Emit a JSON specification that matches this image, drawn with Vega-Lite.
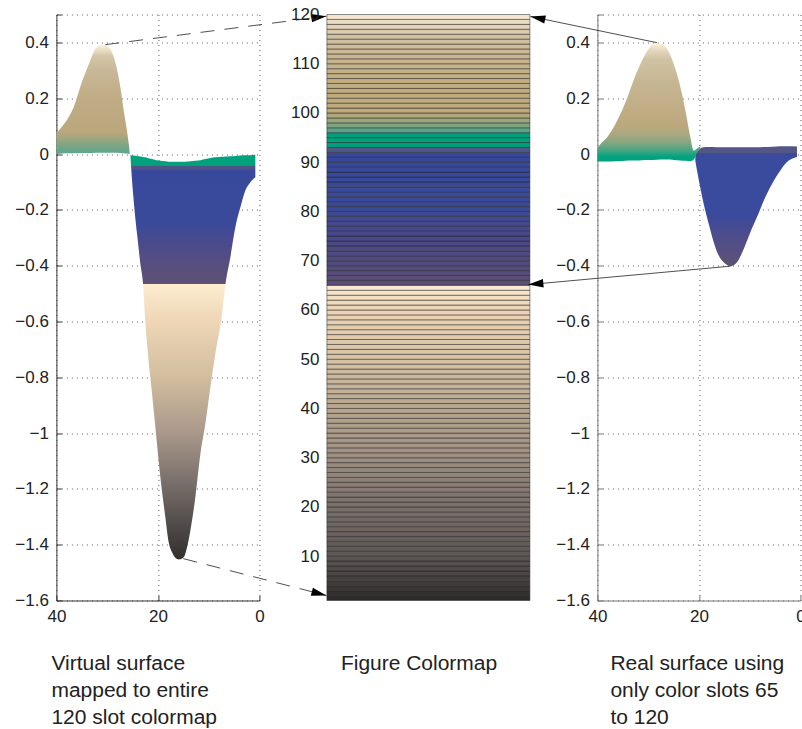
{"$schema":"https://vega.github.io/schema/vega-lite/v6.json","background":"white","padding":{"left":14.4,"top":5.5,"right":0,"bottom":0},"bounds":"flush","spacing":67.5,"config":{"font":"Liberation Sans","view":{"stroke":null},"axis":{"labelFont":"Liberation Sans","labelFontSize":17,"labelColor":"#222","titleFontSize":0,"labelFlush":false,"labelOverlap":false}},
"datasets":{
"surfaceL":[
{"part":"hump","x":40,"low":0.0,"high":0.0747},{"part":"hump","x":38.88,"low":0.002,"high":0.0986},{"part":"hump","x":37.6,"low":0.003,"high":0.132},{"part":"hump","x":36.6,"low":0.003,"high":0.168},{"part":"hump","x":35.0,"low":0.004,"high":0.257},{"part":"hump","x":33.6,"low":0.004,"high":0.323},{"part":"hump","x":32.3,"low":0.005,"high":0.377},{"part":"hump","x":31.3,"low":0.005,"high":0.392},{"part":"hump","x":30.3,"low":0.005,"high":0.392},{"part":"hump","x":29.4,"low":0.005,"high":0.377},{"part":"hump","x":28.4,"low":0.005,"high":0.329},{"part":"hump","x":27.4,"low":0.004,"high":0.24},{"part":"hump","x":26.73,"low":0.003,"high":0.156},{"part":"hump","x":26.2,"low":0.002,"high":0.096},{"part":"hump","x":25.75,"low":0.001,"high":0.037},{"part":"hump","x":25.55,"low":0.0,"high":0.003},
{"part":"trough","x":25.42,"low":-0.004,"high":-0.003},{"part":"trough","x":25.29,"low":-0.0436,"high":-0.004},{"part":"trough","x":24.77,"low":-0.1667,"high":-0.005},{"part":"trough","x":24.11,"low":-0.286,"high":-0.007},{"part":"trough","x":23.45,"low":-0.394,"high":-0.009},{"part":"trough","x":22.93,"low":-0.465,"high":-0.011},{"part":"trough","x":22.47,"low":-0.603,"high":-0.012},{"part":"trough","x":22.14,"low":-0.68,"high":-0.013},{"part":"trough","x":21.15,"low":-0.86,"high":-0.018},{"part":"trough","x":20.5,"low":-0.979,"high":-0.021},{"part":"trough","x":19.51,"low":-1.158,"high":-0.024},{"part":"trough","x":18.53,"low":-1.302,"high":-0.026},{"part":"trough","x":17.87,"low":-1.391,"high":-0.028},{"part":"trough","x":17.21,"low":-1.427,"high":-0.028},{"part":"trough","x":16.56,"low":-1.447,"high":-0.028},{"part":"trough","x":15.9,"low":-1.453,"high":-0.028},{"part":"trough","x":14.92,"low":-1.445,"high":-0.028},{"part":"trough","x":14.26,"low":-1.409,"high":-0.027},{"part":"trough","x":13.6,"low":-1.349,"high":-0.026},{"part":"trough","x":12.62,"low":-1.23,"high":-0.024},{"part":"trough","x":11.63,"low":-1.075,"high":-0.022},{"part":"trough","x":10.65,"low":-0.967,"high":-0.018},{"part":"trough","x":9.66,"low":-0.836,"high":-0.014},{"part":"trough","x":8.68,"low":-0.716,"high":-0.012},{"part":"trough","x":7.36,"low":-0.573,"high":-0.01},{"part":"trough","x":6.71,"low":-0.471,"high":-0.009},{"part":"trough","x":5.72,"low":-0.37,"high":-0.008},{"part":"trough","x":4.74,"low":-0.262,"high":-0.007},{"part":"trough","x":3.75,"low":-0.191,"high":-0.005},{"part":"trough","x":2.77,"low":-0.131,"high":-0.004},{"part":"trough","x":1.78,"low":-0.101,"high":-0.004},{"part":"trough","x":0.8,"low":-0.083,"high":-0.003}],
"surfaceR":[
{"part":"hump","x":40,"low":-0.027,"high":0.022},{"part":"hump","x":39.08,"low":-0.027,"high":0.042},{"part":"hump","x":37.96,"low":-0.027,"high":0.063},{"part":"hump","x":36.45,"low":-0.026,"high":0.108},{"part":"hump","x":35.14,"low":-0.025,"high":0.156},{"part":"hump","x":33.83,"low":-0.023,"high":0.215},{"part":"hump","x":32.51,"low":-0.023,"high":0.281},{"part":"hump","x":31.2,"low":-0.022,"high":0.335},{"part":"hump","x":29.89,"low":-0.021,"high":0.377},{"part":"hump","x":28.9,"low":-0.021,"high":0.395},{"part":"hump","x":27.59,"low":-0.02,"high":0.397},{"part":"hump","x":26.28,"low":-0.02,"high":0.377},{"part":"hump","x":24.96,"low":-0.021,"high":0.323},{"part":"hump","x":23.65,"low":-0.023,"high":0.24},{"part":"hump","x":22.66,"low":-0.024,"high":0.156},{"part":"hump","x":21.68,"low":-0.026,"high":0.06},{"part":"hump","x":21.02,"low":-0.02,"high":0.012},{"part":"hump","x":20.37,"low":0.005,"high":0.02},{"part":"hump","x":19.71,"low":0.02,"high":0.028},
{"part":"trough","x":20.7,"low":-0.025,"high":0.0},{"part":"trough","x":20.37,"low":-0.059,"high":0.008},{"part":"trough","x":19.71,"low":-0.122,"high":0.02},{"part":"trough","x":19.05,"low":-0.179,"high":0.024},{"part":"trough","x":18.07,"low":-0.25,"high":0.025},{"part":"trough","x":17.08,"low":-0.316,"high":0.025},{"part":"trough","x":16.1,"low":-0.364,"high":0.024},{"part":"trough","x":15.11,"low":-0.388,"high":0.024},{"part":"trough","x":13.8,"low":-0.402,"high":0.024},{"part":"trough","x":12.49,"low":-0.388,"high":0.024},{"part":"trough","x":11.17,"low":-0.34,"high":0.024},{"part":"trough","x":9.86,"low":-0.28,"high":0.024},{"part":"trough","x":8.55,"low":-0.226,"high":0.024},{"part":"trough","x":7.23,"low":-0.167,"high":0.025},{"part":"trough","x":5.59,"low":-0.107,"high":0.026},{"part":"trough","x":3.95,"low":-0.059,"high":0.028},{"part":"trough","x":2.64,"low":-0.029,"high":0.028},{"part":"trough","x":0.67,"low":-0.011,"high":0.027}],
"arrowsL":[{"arrow":"top","x":30.35,"y":0.392},{"arrow":"top","x":-13.2,"y":0.494},{"arrow":"bottom","x":14.98,"y":-1.45},{"arrow":"bottom","x":-13.2,"y":-1.582}],
"arrowsR":[{"arrow":"top","x":28.24,"y":0.399},{"arrow":"top","x":53.2,"y":0.493},{"arrow":"bottom","x":13.8,"y":-0.402},{"arrow":"bottom","x":53.6,"y":-0.468}],
"slots":[{"s":1,"e":2},{"s":2,"e":3},{"s":3,"e":4},{"s":4,"e":5},{"s":5,"e":6},{"s":6,"e":7},{"s":7,"e":8},{"s":8,"e":9},{"s":9,"e":10},{"s":10,"e":11},{"s":11,"e":12},{"s":12,"e":13},{"s":13,"e":14},{"s":14,"e":15},{"s":15,"e":16},{"s":16,"e":17},{"s":17,"e":18},{"s":18,"e":19},{"s":19,"e":20},{"s":20,"e":21},{"s":21,"e":22},{"s":22,"e":23},{"s":23,"e":24},{"s":24,"e":25},{"s":25,"e":26},{"s":26,"e":27},{"s":27,"e":28},{"s":28,"e":29},{"s":29,"e":30},{"s":30,"e":31},{"s":31,"e":32},{"s":32,"e":33},{"s":33,"e":34},{"s":34,"e":35},{"s":35,"e":36},{"s":36,"e":37},{"s":37,"e":38},{"s":38,"e":39},{"s":39,"e":40},{"s":40,"e":41},{"s":41,"e":42},{"s":42,"e":43},{"s":43,"e":44},{"s":44,"e":45},{"s":45,"e":46},{"s":46,"e":47},{"s":47,"e":48},{"s":48,"e":49},{"s":49,"e":50},{"s":50,"e":51},{"s":51,"e":52},{"s":52,"e":53},{"s":53,"e":54},{"s":54,"e":55},{"s":55,"e":56},{"s":56,"e":57},{"s":57,"e":58},{"s":58,"e":59},{"s":59,"e":60},{"s":60,"e":61},{"s":61,"e":62},{"s":62,"e":63},{"s":63,"e":64},{"s":64,"e":65},{"s":65,"e":66},{"s":66,"e":67},{"s":67,"e":68},{"s":68,"e":69},{"s":69,"e":70},{"s":70,"e":71},{"s":71,"e":72},{"s":72,"e":73},{"s":73,"e":74},{"s":74,"e":75},{"s":75,"e":76},{"s":76,"e":77},{"s":77,"e":78},{"s":78,"e":79},{"s":79,"e":80},{"s":80,"e":81},{"s":81,"e":82},{"s":82,"e":83},{"s":83,"e":84},{"s":84,"e":85},{"s":85,"e":86},{"s":86,"e":87},{"s":87,"e":88},{"s":88,"e":89},{"s":89,"e":90},{"s":90,"e":91},{"s":91,"e":92},{"s":92,"e":93},{"s":93,"e":94},{"s":94,"e":95},{"s":95,"e":96},{"s":96,"e":97},{"s":97,"e":98},{"s":98,"e":99},{"s":99,"e":100},{"s":100,"e":101},{"s":101,"e":102},{"s":102,"e":103},{"s":103,"e":104},{"s":104,"e":105},{"s":105,"e":106},{"s":106,"e":107},{"s":107,"e":108},{"s":108,"e":109},{"s":109,"e":110},{"s":110,"e":111},{"s":111,"e":112},{"s":112,"e":113},{"s":113,"e":114},{"s":114,"e":115},{"s":115,"e":116},{"s":116,"e":117},{"s":117,"e":118},{"s":118,"e":119},{"s":119,"e":120}]
},
"hconcat":[
{"width":203,"height":586,"title":{"text":["Virtual surface","mapped to entire","120 slot colormap"],"orient":"bottom","anchor":"start","frame":"group","align":"left","dx":-5,"offset":28,"fontSize":21,"fontWeight":"normal","lineHeight":27,"color":"#222","font":"Liberation Sans"},
"layer":[
{"data":{"name":"surfaceL"},"transform":[{"filter":"datum.part=='trough'"}],"mark":{"type":"area","interpolate":"monotone","color":{"gradient":"linear","x1":0,"y1":0,"x2":0,"y2":1,"stops":[{"offset":0,"color":"#00a27d"},{"offset":0.028,"color":"#00a27d"},{"offset":0.0285,"color":"#4f5287"},{"offset":0.036,"color":"#4f5287"},{"offset":0.037,"color":"#38499c"},{"offset":0.17,"color":"#3a4a9a"},{"offset":0.205,"color":"#464a90"},{"offset":0.26,"color":"#554e82"},{"offset":0.319,"color":"#5e5174"},{"offset":0.3195,"color":"#fdeccf"},{"offset":0.412,"color":"#eed6b6"},{"offset":0.55,"color":"#d2bd9f"},{"offset":0.688,"color":"#a9988a"},{"offset":0.825,"color":"#736a66"},{"offset":0.93,"color":"#4a4644"},{"offset":1,"color":"#342f2e"}]}},
"encoding":{"x":{"field":"x","type":"quantitative","scale":{"domain":[40,0],"nice":false},"axis":{"values":[40,20,0],"grid":true,"gridColor":"#333","gridDash":[1,4],"gridOpacity":0.8,"domainColor":"#333","tickColor":"#333","tickSize":-5,"labelPadding":13.5,"title":null,"zindex":0}},"y":{"field":"low","type":"quantitative","scale":{"domain":[-1.6,0.5],"nice":false,"zero":false},"axis":{"values":[0.5,0.4,0.2,0,-0.2,-0.4,-0.6,-0.8,-1,-1.2,-1.4,-1.6],"labelExpr":"datum.value==0.5?'':format(datum.value,'~g')","grid":true,"gridColor":"#333","gridDash":[1,4],"gridOpacity":0.8,"domainColor":"#333","tickColor":"#333","tickSize":-5,"labelPadding":13,"title":null,"zindex":0}},"y2":{"field":"high"}}},
{"data":{"name":"surfaceL"},"transform":[{"filter":"datum.part=='hump'"}],"mark":{"type":"area","interpolate":"monotone","color":{"gradient":"linear","x1":0,"y1":0,"x2":0,"y2":1,"stops":[{"offset":0,"color":"#fbf0da"},{"offset":0.056,"color":"#e9dcc0"},{"offset":0.107,"color":"#d3c5a6"},{"offset":0.235,"color":"#c9b898"},{"offset":0.49,"color":"#c0ac84"},{"offset":0.796,"color":"#bba77c"},{"offset":0.847,"color":"#a6a67e"},{"offset":0.898,"color":"#88a682"},{"offset":0.949,"color":"#70a587"},{"offset":1,"color":"#5ba58a"}]}},
"encoding":{"x":{"field":"x","type":"quantitative"},"y":{"field":"low","type":"quantitative"},"y2":{"field":"high"}}},
{"data":{"name":"arrowsL"},"mark":{"type":"line","color":"#222","strokeWidth":0.8,"strokeDash":[14,10]},"encoding":{"x":{"field":"x","type":"quantitative"},"y":{"field":"y","type":"quantitative"},"detail":{"field":"arrow"},"order":{"field":"x","sort":"descending"}}},
{"data":{"name":"arrowsL"},"transform":[{"filter":"datum.x<0 && datum.arrow=='top'"}],"mark":{"type":"point","filled":true,"color":"#000","opacity":1,"size":900,"shape":"M0,0L-1,-0.28L-1,0.28Z","angle":-7.3},"encoding":{"x":{"field":"x","type":"quantitative"},"y":{"field":"y","type":"quantitative"}}},
{"data":{"name":"arrowsL"},"transform":[{"filter":"datum.x<0 && datum.arrow=='bottom'"}],"mark":{"type":"point","filled":true,"color":"#000","opacity":1,"size":900,"shape":"M0,0L-1,-0.28L-1,0.28Z","angle":14.5},"encoding":{"x":{"field":"x","type":"quantitative"},"y":{"field":"y","type":"quantitative"}}}
]},
{"width":203,"height":586,"title":{"text":"Figure Colormap","orient":"bottom","anchor":"start","frame":"group","align":"left","dx":14,"offset":52,"fontSize":21,"fontWeight":"normal","color":"#222","font":"Liberation Sans"},
"data":{"name":"slots"},"mark":{"type":"rect","stroke":"#222","strokeWidth":0.5},
"encoding":{"y":{"field":"s","type":"quantitative","scale":{"domain":[1,120],"nice":false,"zero":false},"axis":{"values":[10,20,30,40,50,60,70,80,90,100,110,120],"grid":false,"domain":false,"ticks":false,"labelPadding":8,"title":null}},"y2":{"field":"e"},
"color":{"field":"s","type":"quantitative","legend":null,"scale":{"interpolate":"rgb","domain":[1,5,10,20,30,40,50,60,64,65,70,75,80,91,92,93,95,96,97,98,99,100,105,110,115,119],"range":["#2e2a2a","#474240","#5e5755","#7b716b","#9f9082","#b9a790","#d9c4a6","#ecd5b6","#fbe9d0","#5a4e75","#4f4a80","#47488a","#3b4a98","#37489a","#4f5887","#00a07c","#00a07c","#5aa587","#7fa580","#9aa67e","#b0a97c","#bfa97c","#c0ad80","#c8b48c","#d2c2a4","#f3e6cc"]}}}},
{"width":203,"height":586,"title":{"text":["Real surface using","only color slots 65","to 120"],"orient":"bottom","anchor":"start","frame":"group","align":"left","dx":13,"offset":28,"fontSize":21,"fontWeight":"normal","lineHeight":27,"color":"#222","font":"Liberation Sans"},
"layer":[
{"data":{"name":"surfaceR"},"transform":[{"filter":"datum.part=='trough'"}],"mark":{"type":"area","interpolate":"monotone","color":{"gradient":"linear","x1":0,"y1":0,"x2":0,"y2":1,"stops":[{"offset":0,"color":"#545686"},{"offset":0.053,"color":"#545686"},{"offset":0.06,"color":"#3a4a9c"},{"offset":0.577,"color":"#3a4a9c"},{"offset":0.716,"color":"#4b4c8f"},{"offset":0.879,"color":"#574f80"},{"offset":1,"color":"#5e5274"}]}},
"encoding":{"x":{"field":"x","type":"quantitative","scale":{"domain":[40,0],"nice":false},"axis":{"values":[40,20,0],"grid":true,"gridColor":"#333","gridDash":[1,4],"gridOpacity":0.8,"domainColor":"#777","tickColor":"#777","tickSize":-5,"labelPadding":13.5,"title":null}},"y":{"field":"low","type":"quantitative","scale":{"domain":[-1.6,0.5],"nice":false,"zero":false},"axis":{"values":[0.5,0.4,0.2,0,-0.2,-0.4,-0.6,-0.8,-1,-1.2,-1.4,-1.6],"labelExpr":"datum.value==0.5?'':format(datum.value,'~g')","grid":true,"gridColor":"#333","gridDash":[1,4],"gridOpacity":0.8,"domainColor":"#777","tickColor":"#777","tickSize":-5,"labelPadding":13,"title":null}},"y2":{"field":"high"}}},
{"data":{"name":"surfaceR"},"transform":[{"filter":"datum.part=='hump'"}],"mark":{"type":"area","interpolate":"monotone","color":{"gradient":"linear","x1":0,"y1":0,"x2":0,"y2":1,"stops":[{"offset":0,"color":"#fbf0da"},{"offset":0.064,"color":"#e5d7bd"},{"offset":0.134,"color":"#d0c2a4"},{"offset":0.347,"color":"#c6b592"},{"offset":0.7,"color":"#bca87c"},{"offset":0.771,"color":"#a9a87f"},{"offset":0.842,"color":"#85a683"},{"offset":0.913,"color":"#3ea582"},{"offset":0.96,"color":"#00a380"},{"offset":1,"color":"#00a27d"}]}},
"encoding":{"x":{"field":"x","type":"quantitative"},"y":{"field":"low","type":"quantitative"},"y2":{"field":"high"}}},
{"data":{"name":"arrowsR"},"mark":{"type":"line","color":"#222","strokeWidth":0.8},"encoding":{"x":{"field":"x","type":"quantitative"},"y":{"field":"y","type":"quantitative"},"detail":{"field":"arrow"}}},
{"data":{"name":"arrowsR"},"transform":[{"filter":"datum.x>40 && datum.arrow=='top'"}],"mark":{"type":"point","filled":true,"color":"#000","opacity":1,"size":900,"shape":"M0,0L-1,-0.28L-1,0.28Z","angle":191.7},"encoding":{"x":{"field":"x","type":"quantitative"},"y":{"field":"y","type":"quantitative"}}},
{"data":{"name":"arrowsR"},"transform":[{"filter":"datum.x>40 && datum.arrow=='bottom'"}],"mark":{"type":"point","filled":true,"color":"#000","opacity":1,"size":900,"shape":"M0,0L-1,-0.28L-1,0.28Z","angle":174.8},"encoding":{"x":{"field":"x","type":"quantitative"},"y":{"field":"y","type":"quantitative"}}}
]}
],
"resolve":{"scale":{"x":"independent","y":"independent","color":"independent"}}}
